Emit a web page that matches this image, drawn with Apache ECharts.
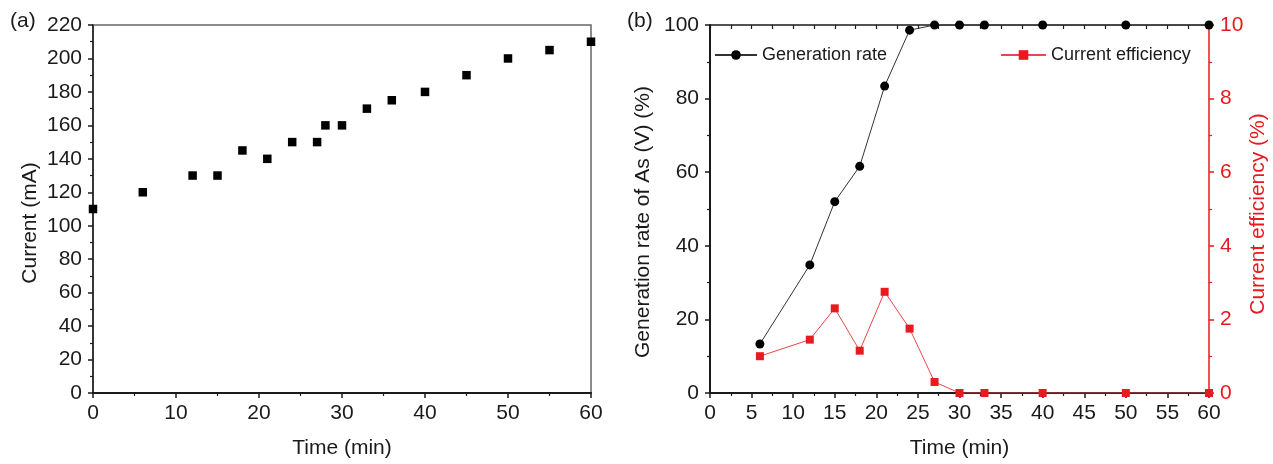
<!DOCTYPE html>
<html>
<head>
<meta charset="utf-8">
<script src="https://cdn.jsdelivr.net/npm/echarts@6/dist/echarts.min.js"></script>
<style>
  html, body { margin: 0; padding: 0; background: #ffffff; }
  #chart { width: 1273px; height: 464px; }
</style>
</head>
<body>
<div id="chart"></div>
<script>
// (a) Current over electrolysis time
const timeA = [0, 6, 12, 15, 18, 21, 24, 27, 28, 30, 33, 36, 40, 45, 50, 55, 60];
const currentA = [110, 120, 130, 130, 145, 140, 150, 150, 160, 160, 170, 175, 180, 190, 200, 205, 210];

// (b) Generation rate of As(V) and current efficiency
const timeB = [6, 12, 15, 18, 21, 24, 27, 30, 33, 40, 50, 60];
const generationRate = [13.3, 34.8, 52, 61.6, 83.4, 98.6, 100, 100, 100, 100, 100, 100];
const currentEfficiency = [1.0, 1.45, 2.3, 1.15, 2.75, 1.75, 0.3, 0, 0, 0, 0, 0];

const FONT = 'Liberation Sans, Arial, sans-serif';
const RED = '#e8191f';
const INK = '#1a1a1a';

const pairs = (xs, ys) => xs.map((x, i) => [x, ys[i]]);

const tickFont = { fontFamily: FONT, fontSize: 21, color: INK };
const nameFont = { fontFamily: FONT, fontSize: 21, color: INK };

const chart = echarts.init(document.getElementById('chart'), null, { renderer: 'canvas' });

chart.setOption({
  backgroundColor: '#ffffff',
  animation: false,
  title: [
    { text: '(a)', left: 5, top: 6, textStyle: { fontFamily: FONT, fontSize: 21, fontWeight: 'normal', color: INK } },
    { text: '(b)', left: 622, top: 6, textStyle: { fontFamily: FONT, fontSize: 21, fontWeight: 'normal', color: INK } }
  ],
  legend: [
    {
      data: ['Generation rate'], left: 714, top: 46, padding: 0,
      itemWidth: 42, itemHeight: 12, itemGap: 10,
      textStyle: { fontFamily: FONT, fontSize: 18, color: INK }
    },
    {
      data: ['Current efficiency'], left: 1000, top: 46, padding: 0,
      itemWidth: 45, itemHeight: 12, itemGap: 10,
      textStyle: { fontFamily: FONT, fontSize: 18, color: INK }
    }
  ],
  grid: [
    { left: 93, top: 25, width: 498, height: 370, show: true, borderColor: '#666', borderWidth: 1.5, backgroundColor: 'transparent' },
    { left: 710, top: 25, width: 499, height: 370 }
  ],
  xAxis: [
    {
      type: 'value', gridIndex: 0, min: 0, max: 60, interval: 10,
      name: 'Time (min)', nameLocation: 'middle', nameGap: 45, nameTextStyle: nameFont,
      axisLine: { onZero: false, lineStyle: { color: INK, width: 2 } },
      axisTick: { length: 5, lineStyle: { color: INK, width: 1.5 } },
      minorTick: { show: true, splitNumber: 2, length: 3, lineStyle: { color: INK, width: 1.2 } },
      axisLabel: { ...tickFont, margin: 10 },
      splitLine: { show: false }
    },
    {
      type: 'value', gridIndex: 1, min: 0, max: 60, interval: 5,
      name: 'Time (min)', nameLocation: 'middle', nameGap: 45, nameTextStyle: nameFont,
      axisLine: { onZero: false, lineStyle: { color: INK, width: 2 } },
      axisTick: { length: 5, lineStyle: { color: INK, width: 1.5 } },
      minorTick: { show: true, splitNumber: 2, length: 3, lineStyle: { color: INK, width: 1.2 } },
      axisLabel: { ...tickFont, margin: 10 },
      splitLine: { show: false }
    },
    {
      type: 'value', gridIndex: 1, position: 'top', min: 0, max: 60, interval: 5,
      axisLine: { onZero: false, lineStyle: { color: INK, width: 1.5 } },
      axisTick: { inside: true, length: 4, lineStyle: { color: INK, width: 1.2 } },
      minorTick: { show: true, splitNumber: 2, length: 4, lineStyle: { color: INK, width: 1.2 } },
      axisLabel: { show: false },
      splitLine: { show: false }
    }
  ],
  yAxis: [
    {
      type: 'value', gridIndex: 0, min: 0, max: 220, interval: 20,
      name: 'Current (mA)', nameLocation: 'middle', nameGap: 52, nameRotate: 90,
      nameTextStyle: { ...nameFont, padding: [0, 28, 0, 0] },
      axisLine: { onZero: false, lineStyle: { color: INK, width: 1.5 } },
      axisTick: { length: 5, lineStyle: { color: INK, width: 1.5 } },
      minorTick: { show: true, splitNumber: 2, length: 3, lineStyle: { color: INK, width: 1.2 } },
      axisLabel: { ...tickFont, margin: 11 },
      splitLine: { show: false }
    },
    {
      type: 'value', gridIndex: 1, min: 0, max: 100, interval: 20,
      name: 'Generation rate of As (V) (%)', nameLocation: 'middle', nameGap: 56, nameRotate: 90,
      nameTextStyle: { ...nameFont, padding: [0, 26, 0, 0] },
      axisLine: { onZero: false, lineStyle: { color: INK, width: 2 } },
      axisTick: { length: 5, lineStyle: { color: INK, width: 1.5 } },
      minorTick: { show: true, splitNumber: 2, length: 3, lineStyle: { color: INK, width: 1.2 } },
      axisLabel: { ...tickFont, margin: 11 },
      splitLine: { show: false }
    },
    {
      type: 'value', gridIndex: 1, position: 'right', min: 0, max: 10, interval: 2,
      name: 'Current efficiency (%)', nameLocation: 'middle', nameGap: 34, nameRotate: 90,
      nameTextStyle: { ...nameFont, color: RED, padding: [0, 10, 0, 0] },
      axisLine: { onZero: false, lineStyle: { color: RED, width: 1.5 } },
      axisTick: { length: 5, lineStyle: { color: RED, width: 1.5 } },
      minorTick: { show: true, splitNumber: 2, length: 3, lineStyle: { color: RED, width: 1.2 } },
      axisLabel: { ...tickFont, color: RED, margin: 11 },
      splitLine: { show: false }
    }
  ],
  series: [
    {
      name: 'Current', type: 'scatter', xAxisIndex: 0, yAxisIndex: 0,
      symbol: 'rect', symbolSize: 8.5,
      itemStyle: { color: '#000000', opacity: 1 },
      data: pairs(timeA, currentA),
      z: 1
    },
    {
      name: 'Generation rate', type: 'line', xAxisIndex: 1, yAxisIndex: 1,
      symbol: 'circle', symbolSize: 9,
      lineStyle: { color: '#333333', width: 1 },
      itemStyle: { color: '#000000' },
      data: pairs(timeB, generationRate),
      z: 1
    },
    {
      name: 'Current efficiency', type: 'line', xAxisIndex: 1, yAxisIndex: 2,
      symbol: 'rect', symbolSize: 8,
      lineStyle: { color: '#e8474c', width: 1 },
      itemStyle: { color: RED },
      data: pairs(timeB, currentEfficiency),
      z: 1
    }
  ]
});
</script>
</body>
</html>
